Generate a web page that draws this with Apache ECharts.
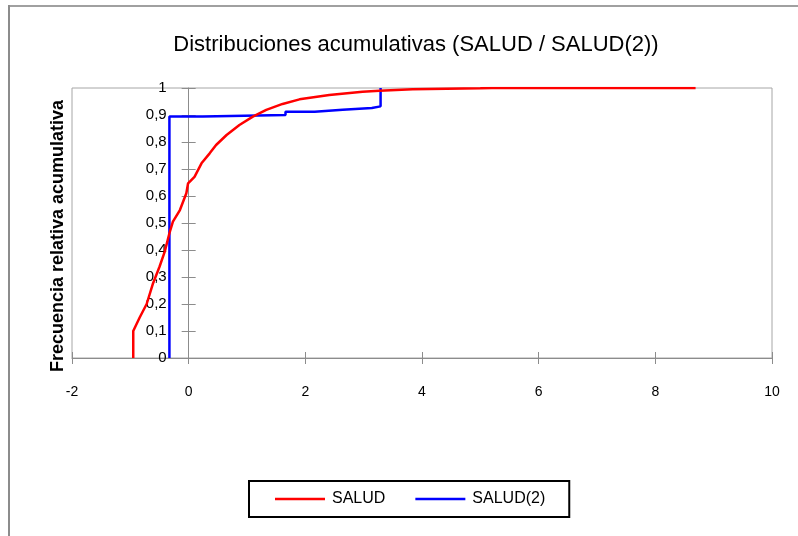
<!DOCTYPE html>
<html>
<head>
<meta charset="utf-8">
<script src="https://cdn.jsdelivr.net/npm/echarts@6/dist/echarts.min.js"></script>
<style>
  html, body { margin: 0; padding: 0; background: #fff; }
  #chart { width: 798px; height: 536px; }
</style>
</head>
<body>
<div id="chart"></div>
<script>
// ECDF points: [x, cumulative frequency]
const salud = [
  [-0.95, 0], [-0.95, 0.1], [-0.92, 0.1], [-0.84, 0.15], [-0.72, 0.2],
  [-0.61, 0.277], [-0.5, 0.338], [-0.41, 0.394], [-0.33, 0.462], [-0.27, 0.505],
  [-0.15, 0.548], [-0.04, 0.61], [-0.01, 0.647], [0.1, 0.671], [0.22, 0.721],
  [0.36, 0.758], [0.47, 0.789], [0.65, 0.826], [0.87, 0.863], [1.1, 0.894],
  [1.33, 0.919], [1.61, 0.941], [1.9, 0.958], [2.41, 0.974], [2.98, 0.986],
  [3.27, 0.99], [3.3, 0.993], [3.84, 0.995], [3.86, 0.998], [5.0, 0.999],
  [5.2, 1], [8.69, 1]
];
// step series (value holds until next x)
const salud2 = [
  [-0.33, 0], [-0.33, 0.894], [0.24, 0.897], [0.27, 0.9], [1.66, 0.912],
  [2.16, 0.919], [2.64, 0.926], [3.14, 0.932], [3.29, 1]
];
const seriesNames = ["SALUD", "SALUD(2)"];
const xTicks = { min: -2, max: 10, interval: 2 };
const yTicks = { min: 0, max: 1, interval: 0.1 };

const chart = echarts.init(document.getElementById("chart"), null, { renderer: "canvas" });

const fontFam = "'Liberation Sans', Arial, sans-serif";
const gray = "#8c8c8c";

// grid geometry; the y axis sits at x = 0
const gridLeft = 72, gridRight = 26;
const plotW = 798 - gridLeft - gridRight;
const yAxisOffset = -plotW * (0 - xTicks.min) / (xTicks.max - xTicks.min);

const yLabel = (v) => (+v.toFixed(1)).toString().replace(".", ",");

chart.setOption({
  backgroundColor: "#fff",
  animation: false,
  textStyle: { fontFamily: fontFam },
  title: {
    text: "Distribuciones acumulativas (SALUD / SALUD(2))",
    left: 411,
    textAlign: "center",
    top: 29,
    textStyle: { fontSize: 22, fontWeight: "normal", color: "#000", fontFamily: fontFam }
  },
  graphic: [
    { type: "line", shape: { x1: 9, y1: 6, x2: 798, y2: 6 }, style: { stroke: "#a0a0a0", lineWidth: 2 } },
    { type: "line", shape: { x1: 9, y1: 5, x2: 9, y2: 536 }, style: { stroke: gray, lineWidth: 2 } }
  ],
  grid: {
    left: gridLeft,
    right: gridRight,
    top: 88,
    bottom: 178,
    containLabel: false,
    outerBoundsMode: "none",
    show: true,
    borderColor: "#a6a6a6",
    borderWidth: 1
  },
  legend: {
    data: seriesNames,
    icon: "rect",
    left: 249,
    top: 481,
    padding: [10, 24, 10, 26],
    itemWidth: 50,
    itemHeight: 2.5,
    itemGap: 30,
    borderColor: "#000",
    borderWidth: 2,
    textStyle: { fontSize: 16, color: "#000", fontFamily: fontFam, padding: [0, 0, 0, 2] }
  },
  xAxis: [
    {
      type: "value",
      min: xTicks.min,
      max: xTicks.max,
      interval: xTicks.interval,
      axisLine: { onZero: false, lineStyle: { color: gray, width: 1 } },
      axisTick: { show: true, length: 6, lineStyle: { color: gray } },
      axisLabel: { margin: 27, fontSize: 14, color: "#000" },
      splitLine: { show: false }
    },
    {
      type: "value",
      position: "bottom",
      min: xTicks.min,
      max: xTicks.max,
      interval: xTicks.interval,
      axisLine: { show: false, onZero: false },
      axisTick: { show: true, inside: true, length: 6, lineStyle: { color: gray } },
      axisLabel: { show: false },
      splitLine: { show: false }
    }
  ],
  yAxis: [
    {
      type: "value",
      position: "left",
      offset: yAxisOffset,
      min: yTicks.min,
      max: yTicks.max,
      interval: yTicks.interval,
      name: "Frecuencia relativa acumulativa",
      nameLocation: "middle",
      nameRotate: 90,
      nameGap: 122,
      nameTextStyle: {
        fontSize: 18, fontWeight: "bold", color: "#000", fontFamily: fontFam,
        padding: [0, 26, 0, 0]
      },
      axisLine: { show: true, onZero: false, lineStyle: { color: gray, width: 1 } },
      axisTick: { show: true, length: 7, lineStyle: { color: gray } },
      axisLabel: { margin: 22, fontSize: 15, color: "#000", formatter: yLabel },
      splitLine: { show: false }
    },
    {
      type: "value",
      position: "left",
      offset: yAxisOffset,
      min: yTicks.min,
      max: yTicks.max,
      interval: yTicks.interval,
      axisLine: { show: false, onZero: false },
      axisTick: { show: true, inside: true, length: 7, lineStyle: { color: gray } },
      axisLabel: { show: false },
      splitLine: { show: false }
    }
  ],
  series: [
    {
      name: seriesNames[0],
      type: "line",
      data: salud,
      symbol: "none",
      lineStyle: { color: "#ff0000", width: 2.5 },
      itemStyle: { color: "#ff0000" },
      z: 3
    },
    {
      name: seriesNames[1],
      type: "line",
      data: salud2,
      step: "end",
      symbol: "none",
      lineStyle: { color: "#0000ff", width: 2.5 },
      itemStyle: { color: "#0000ff" },
      z: 2
    }
  ]
});
</script>
</body>
</html>
